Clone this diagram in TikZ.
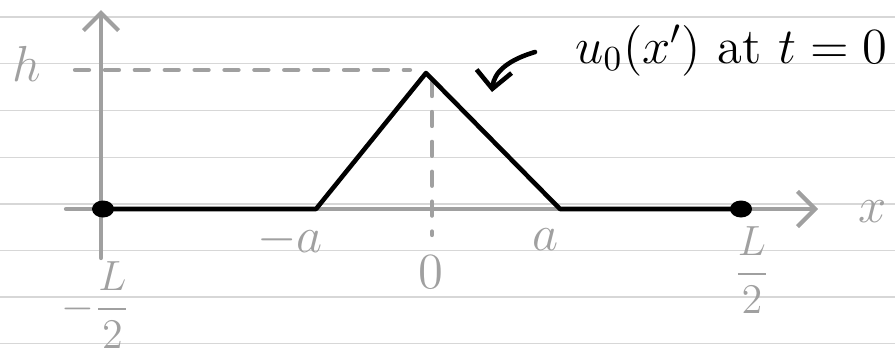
\documentclass[tikz,border=0pt]{standalone}
\usepackage{amsmath}
\usetikzlibrary{arrows.meta}
\definecolor{axisgray}{RGB}{160,160,160}
\definecolor{rulegray}{RGB}{215,215,215}
\begin{document}
\begin{tikzpicture}[x=0.01cm, y=-0.01cm, >={Straight Barb[length=5pt,width=10pt]}, line join=round, line cap=round, font=\Large]
	\tikzset{
		rule/.style={rulegray, line width=0.5pt},
		axis/.style={axisgray, line width=1.2pt},
		guide/.style={axisgray, line width=1.2pt, dash pattern=on 4pt off 4.5pt},
		curve/.style={black, line width=1.3pt},
		tick/.style={axisgray}
	}
	\useasboundingbox (0,0) rectangle (895,354);
	% ruled paper
	\foreach \y in {17,63.5,110.5,157.5,204,250.5,297,343.5} {
		\draw[rule] (0,\y) -- (895,\y);
	}
	% axes
	\coordinate (xstart) at (66,209);
	\coordinate (xend) at (818,209);
	\coordinate (ystart) at (101,258);
	\coordinate (yend) at (101,10);
	\draw[axis, ->] (xstart) -- (xend);
	\draw[axis, ->] (ystart) -- (yend);
	\node[tick] (xlab) at (873,212) {$x$};
	% initial profile
	\coordinate (A) at (103,209);
	\coordinate (B) at (316,209);
	\coordinate (P) at (426,73);
	\coordinate (C) at (560,209);
	\coordinate (D) at (741,209);
	\draw[guide] (75,70) -- (410,70);
	\draw[guide] (432,82) -- (432,235);
	\draw[curve] (A) -- (B) -- (P) -- (C) -- (D);
	\foreach \p in {A, D} {
		\fill (\p) ellipse (0.11cm and 0.085cm);
	}
	% labels
	\node[tick] (hlab) at (27,64) {$h$};
	\node[tick] (malab) at (290,240) {$-a$};
	\node[tick] (alab) at (545,240) {$a$};
	\node[tick] (zlab) at (431,272) {$0$};
	\node[tick, font=\large] (mLlab) at (96,305) {$-\dfrac{L}{2}$};
	\node[tick, font=\large] (Llab) at (752,270) {$\dfrac{L}{2}$};
	\node[anchor=base west] (ulab) at (563,63) {$u_0(x')$ at $t=0$};
	\coordinate (astart) at (535,52);
	\coordinate (aend) at (492,92);
	\draw[curve, ->] (astart) .. controls (508,60) and (494,72) .. (aend);
\end{tikzpicture}
\end{document}
